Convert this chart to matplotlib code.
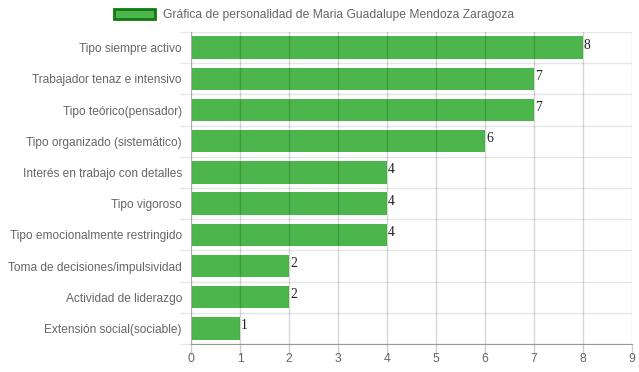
import matplotlib
matplotlib.use('Agg')
import matplotlib.pyplot as plt
from matplotlib.patches import Patch
import numpy as np

categories = ['Tipo siempre activo', 'Trabajador tenaz e intensivo', 'Tipo teórico(pensador)',
              'Tipo organizado (sistemático)', 'Interés en trabajo con detalles', 'Tipo vigoroso',
              'Tipo emocionalmente restringido', 'Toma de decisiones/impulsividad',
              'Actividad de liderazgo', 'Extensión social(sociable)']
values = [8, 7, 7, 6, 4, 4, 4, 2, 2, 1]
x_ticks = list(range(0, 10))
legend_label = 'Gráfica de personalidad de Maria Guadalupe Mendoza Zaragoza'

plt.rcParams['font.family'] = ['Liberation Sans', 'DejaVu Sans']

fig = plt.figure(figsize=(6.39, 3.72), dpi=100)
ax = fig.add_axes([191/639, 28/372, (632-191)/639, (344-32)/372])

y = np.arange(len(categories))
ax.barh(y, values, height=0.72, color='#4cb54c', zorder=2)
for i, v in enumerate(values):
    ax.text(v + 0.02, i - 0.08, str(v), family='Liberation Serif', fontsize=9.8,
            color='#222222', va='center', ha='left', zorder=4)

ax.set_xlim(0, 9)
ax.set_ylim(len(categories) - 0.5, -0.5)
ax.set_xticks(x_ticks)
ax.set_yticks(y)
ax.set_yticklabels(categories)
ax.set_yticks(np.arange(-0.5, len(categories), 1), minor=True)

ax.tick_params(axis='y', which='major', length=0, pad=6.5, labelsize=8.6, labelcolor='#666666')
ax.tick_params(axis='y', which='minor', length=8, color='#e6e6e6', width=1)
ax.tick_params(axis='x', which='major', length=8, color='#cccccc', width=1,
               labelsize=8.8, labelcolor='#666666', pad=-1.5)

for xv in x_ticks:
    ax.axvline(xv, color='black', alpha=0.16, lw=1, zorder=3)
for yv in np.arange(-0.5, len(categories), 1):
    ax.axhline(yv, color='#e6e6e6', lw=1, zorder=1)

for s in ['top', 'right']:
    ax.spines[s].set_visible(False)
ax.spines['left'].set_color('#cccccc')
ax.spines['bottom'].set_color('#999999')

handle = Patch(facecolor='#4cb54c', edgecolor='#127812', linewidth=2)
fig.legend([handle], [legend_label], loc='center', bbox_to_anchor=(314/639, 1 - 15/372),
           frameon=False, fontsize=8.7, labelcolor='#666666', handlelength=3.4,
           handleheight=0.95, handletextpad=0.6)

fig.savefig('out.png', dpi=100)
